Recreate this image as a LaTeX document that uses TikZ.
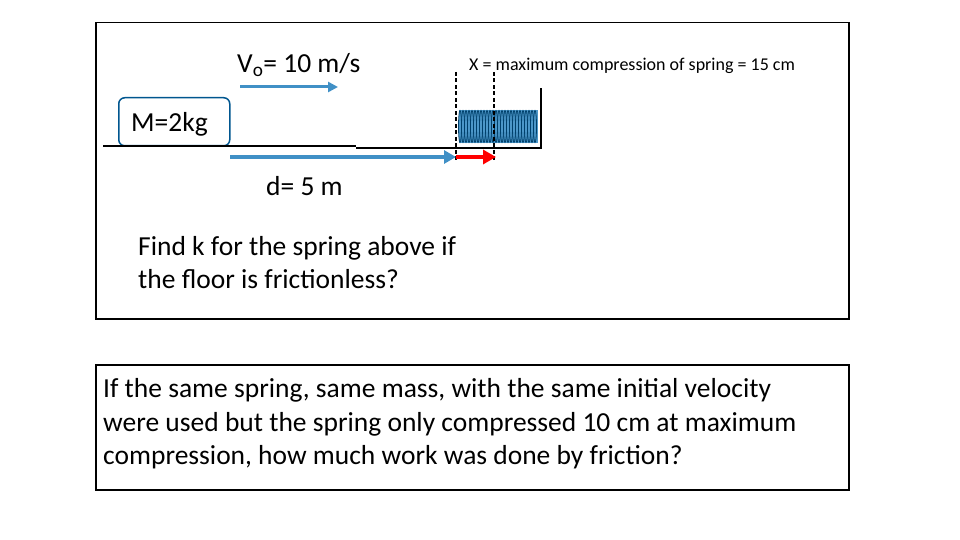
\documentclass[tikz,border=0pt]{standalone}
\usepackage{fontspec}
\setmainfont{Carlito}
\usetikzlibrary{arrows.meta}
\begin{document}
\begin{tikzpicture}[x=1pt,y=-1pt,
  box/.style={draw=black,line width=1.5pt},
  dsh/.style={dash pattern=on 4pt off 2.5pt,line width=1.5pt},
  txt/.style={anchor=base west,inner sep=0pt,font=\fontsize{27.5}{33}\selectfont}]
\useasboundingbox (0,0) rectangle (960,540);
\colorlet{ab}{blue!40!cyan!70!black}
\node[box,minimum width=753pt,minimum height=296pt,anchor=north west] (top) at (95,22) {};
\node[box,minimum width=753pt,minimum height=125pt,anchor=north west] (bot) at (95,364) {};
\node[draw=ab!80!black,line width=1.5pt,rounded corners=6pt,minimum width=111pt,minimum height=48pt,anchor=north west] (mass) at (118,97) {};
\node[txt] (mlab) at (131,132) {M=2kg};
\coordinate (f0) at (103,146);
\coordinate (f1) at (356,146);
\coordinate (f2) at (356,148);
\coordinate (f3) at (541,148);
\coordinate (w1) at (541,88);
\draw[line width=2pt] (f0)--(f1);
\draw[line width=2.5pt] (f2)--(f3)--(w1);
% spring
\fill[ab!70!white] (459,110) rectangle (538,143);
\foreach \i in {0,...,25}{
  \draw[ab!60!black,line width=0.8pt] (460+3*\i,126.5) ellipse (1.5pt and 16pt);
}
\coordinate (d1a) at (456,72); \coordinate (d1b) at (456,162);
\coordinate (d2a) at (494,72); \coordinate (d2b) at (494,162);
\draw[dsh] (d1a)--(d1b);
\draw[dsh] (d2a)--(d2b);
\coordinate (v0) at (240,87); \coordinate (v1) at (338,87);
\draw[-{Triangle[length=10pt,width=10pt]},line width=3pt,color=ab!75!white] (v0)--(v1);
\coordinate (a0) at (230,157);
\draw[-{Triangle[length=12pt,width=13pt]},line width=4pt,color=ab!75!white] (a0)--(d1b|-a0);
\coordinate (r1) at (496,157);
\draw[-{Triangle[length=13pt,width=14pt]},line width=4pt,color=red] (d1b|-a0)--(r1);
\node[txt] (vlab) at (237,73) {V\textsubscript{o}= 10 m/s};
\node[txt,font=\fontsize{18}{21}\selectfont] (xlab) at (469,71) {X = maximum compression of spring = 15 cm};
\node[txt] (dlab) at (266,196) {d= 5 m};
\node[txt] (q1a) at (138,255) {Find k for the spring above if};
\node[txt] (q1b) at (138,288) {the floor is frictionless?};
\node[txt] (q2a) at (103,397) {If the same spring, same mass, with the same initial velocity};
\node[txt] (q2b) at (103,431) {were used but the spring only compressed 10 cm at maximum};
\node[txt] (q2c) at (103,464) {compression, how much work was done by friction?};
\end{tikzpicture}
\end{document}
